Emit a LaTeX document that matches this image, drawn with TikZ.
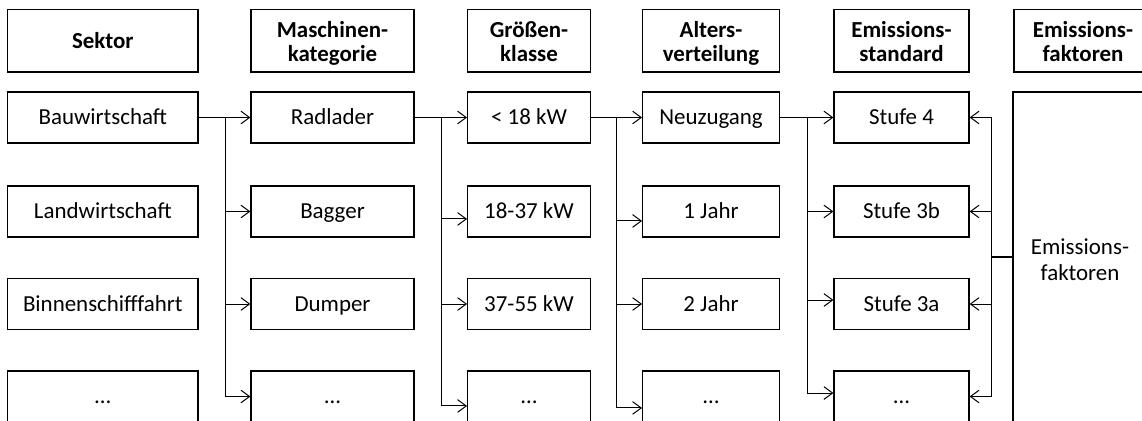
\documentclass[tikz,border=0pt]{standalone}
\usepackage{fontspec}
\setmainfont{Carlito}
\usetikzlibrary{arrows.meta}
\newcommand{\fsz}{\fontsize{17.2}{18}\selectfont}
\begin{document}
\begin{tikzpicture}[x=0.75pt,y=-0.75pt,
  box/.style={draw, line width=0.9pt, align=center, inner sep=0pt, font=\fsz, minimum height=38.25pt, text height=16pt, text depth=4.8pt},
  head/.style={draw, line width=0.9pt, align=center, inner sep=0pt, font=\fsz\bfseries, minimum height=46.9pt, text height=36.3pt, text depth=4.8pt},
  headone/.style={head, text height=16pt, text depth=4.8pt},
  cA/.style={minimum width=142.7pt},
  cB/.style={minimum width=122.25pt},
  cC/.style={minimum width=92pt},
  cD/.style={minimum width=102.5pt},
  cE/.style={minimum width=101.25pt},
  conn/.style={line width=0.75pt, -{Straight Barb[length=6.5pt,width=9.5pt]}},
  connL/.style={line width=0.75pt, {Straight Barb[length=6.5pt,width=9.5pt]}-},
  feed/.style={line width=1.3pt},
  feedthin/.style={line width=0.8pt}]
\useasboundingbox (0,0) rectangle (1142,421);
\clip (0,0) rectangle (1142,421);
% headers
\node[headone,cA] (h1) at (102.85,40.75) {Sektor};
\node[head,cB] (h2) at (332.5,40.75) {Maschinen-\\kategorie};
\node[head,cC] (h3) at (529,40.75) {Größen-\\klasse};
\node[head,cD] (h4) at (711,40.75) {Alters-\\verteilung};
\node[head,cE] (h5) at (901.5,40.75) {Emissions-\\standard};
\node[head,minimum width=103.5pt] (h6) at (1083,40.75) {Emissions-\\faktoren};
% column 1
\node[box,cA] (s1) at (102.85,117.5) {Bauwirtschaft};
\node[box,cA] (s2) at (102.85,211.5) {Landwirtschaft};
\node[box,cA] (s3) at (102.85,304) {Binnenschifffahrt};
\node[box,cA] (s4) at (102.85,396.5) {…};
% column 2
\node[box,cB] (k1) at (332.5,117.5) {Radlader};
\node[box,cB] (k2) at (332.5,211.5) {Bagger};
\node[box,cB] (k3) at (332.5,304) {Dumper};
\node[box,cB] (k4) at (332.5,396.5) {…};
% column 3
\node[box,cC] (g1) at (529,117.5) {< 18 kW};
\node[box,cC] (g2) at (529,211.5) {18-37 kW};
\node[box,cC] (g3) at (529,304) {37-55 kW};
\node[box,cC] (g4) at (529,396.5) {…};
% column 4
\node[box,cD] (a1) at (711,117.5) {Neuzugang};
\node[box,cD] (a2) at (711,211.5) {1 Jahr};
\node[box,cD] (a3) at (711,304) {2 Jahr};
\node[box,cD] (a4) at (711,396.5) {…};
% column 5
\node[box,cE] (e1) at (901.5,117.5) {Stufe 4};
\node[box,cE] (e2) at (901.5,211.5) {Stufe 3b};
\node[box,cE] (e3) at (901.5,304) {Stufe 3a};
\node[box,cE] (e4) at (901.5,396.5) {…};
% emission factors
\node[draw, line width=0.9pt, align=center, inner sep=0pt, minimum width=100.5pt, minimum height=252pt, font=\fontsize{17.2}{19.5}\selectfont] (ef) at (1080,260) {Emissions-\\faktoren};
% bus coordinates
\coordinate (b1) at (225.4,117.5);
\coordinate (b2) at (441.5,117.5);
\coordinate (b3) at (616.5,117.5);
\coordinate (b4) at (807,117.5);
\coordinate (rb) at (991,257);
% sector -> category
\draw[feed] (s1.east) -- (b1);
\draw[conn] (b1) -- (k1.west);
\draw[conn] (b1) |- (k2.west);
\draw[conn] (b1) |- (k3.west);
\draw[conn] (b1) |- (k4.west);
% category -> size class
\draw[feedthin] (k1.east) -- (b2);
\draw[conn] (b2) -- (g1.west);
\draw[conn] (b2) |- ([yshift=-5.6pt]g2.west);
\draw[conn] (b2) |- (g3.west);
\draw[conn] (b2) |- ([yshift=-7.1pt]g4.west);
% size class -> age
\draw[feedthin] (g1.east) -- (b3);
\draw[conn] (b3) -- (a1.west);
\draw[conn] (b3) |- ([yshift=-7.1pt]a2.west);
\draw[conn] (b3) |- (a3.west);
\draw[conn] (b3) |- ([yshift=-8.6pt]a4.west);
% age -> standard
\draw[feed] (a1.east) -- (b4);
\draw[conn] (b4) -- (e1.west);
\draw[conn] (b4) |- (e2.west);
\draw[conn] (b4) |- ([yshift=3pt]e3.west);
\draw[conn] (b4) |- ([yshift=2.6pt]e4.west);
% emission factors -> standard
\draw[feed] (ef.west |- rb) -- (rb);
\draw[connL] (e1.east) -| (rb);
\draw[connL] (e2.east) -| (rb);
\draw[connL] (e3.east) -| (rb);
\draw[connL] (e4.east) -| (rb);
\end{tikzpicture}
\end{document}
